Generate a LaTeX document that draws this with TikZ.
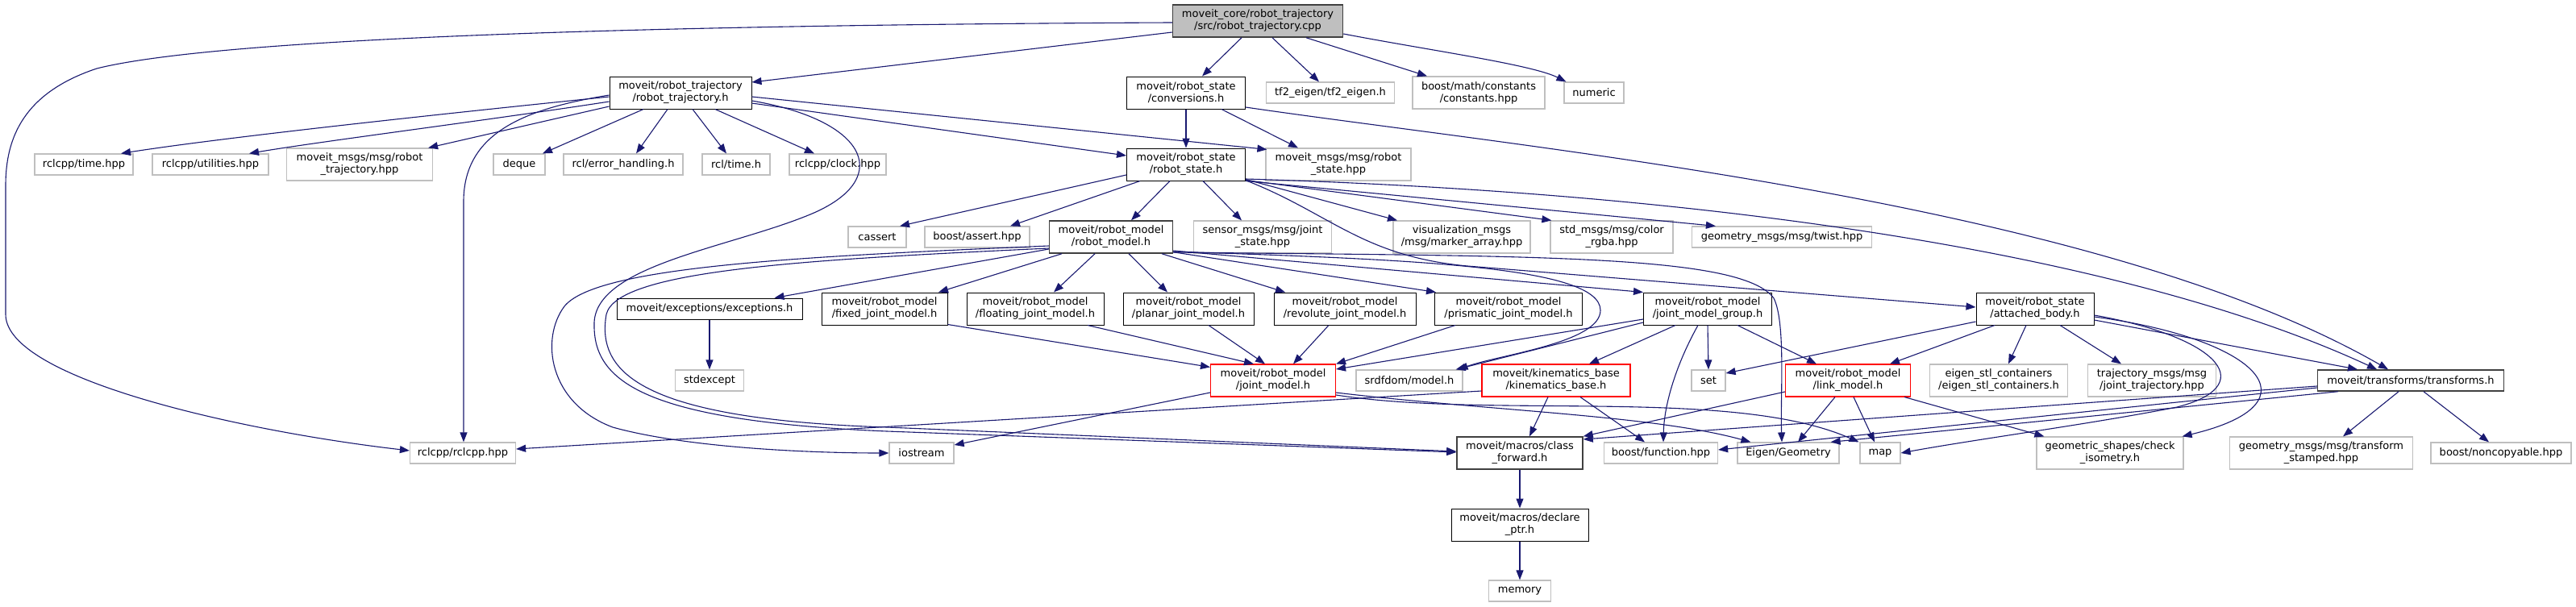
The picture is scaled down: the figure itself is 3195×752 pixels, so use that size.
\documentclass[tikz,border=0pt]{standalone}
\usepackage{fontspec}
\setmainfont{DejaVu Sans}
\usetikzlibrary{arrows.meta,calc}
\definecolor{edgec}{HTML}{191970}
\definecolor{gseventyfive}{HTML}{BFBFBF}
\definecolor{gtwentyfive}{HTML}{404040}
\tikzset{
 nbase/.style={rectangle, inner sep=0pt, align=center, font=\fontsize{13}{15}\selectfont, fill=white},
 nb/.style={nbase, draw=black, line width=1.0pt},
 ng/.style={nbase, draw=gseventyfive, line width=1.2pt},
 nr/.style={nbase, draw=red, line width=1.1pt},
 nd/.style={nbase, draw=gtwentyfive, line width=1.5pt},
 sz/.style 2 args={minimum width=#1pt, minimum height=#2pt},
 conn/.style={draw=edgec, line width=1.1pt, -{Triangle[length=12pt,width=9pt]}},
}
\begin{document}
\begin{tikzpicture}[x=1pt,y=-1pt]
\fill[white] (0,0) rectangle (3195,752);
\useasboundingbox (0,0) rectangle (3195,752);
% row 0
\node[nd, fill=gseventyfive, sz={211}{40}] (cpp) at (1560,26) {moveit\_core/robot\_trajectory\\/src/robot\_trajectory.cpp};
% row 1
\node[nb, sz={176}{40}] (rt) at (844,115) {moveit/robot\_trajectory\\/robot\_trajectory.h};
\node[nb, sz={147}{40}] (conv) at (1471,115) {moveit/robot\_state\\/conversions.h};
\node[ng, sz={159}{26}] (tf2) at (1650,115) {tf2\_eigen/tf2\_eigen.h};
\node[ng, sz={164}{40}] (bmath) at (1834,115) {boost/math/constants\\/constants.hpp};
\node[ng, sz={74}{26}] (numeric) at (1977,115) {numeric};
% row 2
\node[ng, sz={122}{26}] (rcltime) at (104,204) {rclcpp/time.hpp};
\node[ng, sz={144}{26}] (rclutil) at (261,204) {rclcpp/utilities.hpp};
\node[ng, sz={181}{40}] (mmrt) at (446,204) {moveit\_msgs/msg/robot\\\_trajectory.hpp};
\node[ng, sz={64}{26}] (deque) at (644,204) {deque};
\node[ng, sz={148}{26}] (rclerr) at (773,204) {rcl/error\_handling.h};
\node[ng, sz={84}{26}] (rcltimeh) at (913,204) {rcl/time.h};
\node[ng, sz={120}{26}] (rclclock) at (1039,204) {rclcpp/clock.hpp};
\node[nb, sz={147}{40}] (rs) at (1471,204) {moveit/robot\_state\\/robot\_state.h};
\node[ng, sz={180}{40}] (mmrs) at (1660,204) {moveit\_msgs/msg/robot\\\_state.hpp};
% row 3
\node[ng, sz={72}{26}] (cassert) at (1088,294) {cassert};
\node[ng, sz={130}{26}] (bassert) at (1212,294) {boost/assert.hpp};
\node[nd, sz={153}{40}] (rm) at (1378,294) {moveit/robot\_model\\/robot\_model.h};
\node[ng, sz={171}{40}] (sensor) at (1566,294) {sensor\_msgs/msg/joint\\\_state.hpp};
\node[ng, sz={170}{40}] (vis) at (1813,294) {visualization\_msgs\\/msg/marker\_array.hpp};
\node[ng, sz={152}{40}] (color) at (1999,294) {std\_msgs/msg/color\\\_rgba.hpp};
\node[ng, sz={223}{26}] (twist) at (2210,294) {geometry\_msgs/msg/twist.hpp};
% row 4
\node[nb, sz={230}{26}] (exc) at (880,383) {moveit/exceptions/exceptions.h};
\node[nb, sz={156}{40}] (fixed) at (1097,383) {moveit/robot\_model\\/fixed\_joint\_model.h};
\node[nb, sz={170}{40}] (floating) at (1284,383) {moveit/robot\_model\\/floating\_joint\_model.h};
\node[nb, sz={162}{40}] (planar) at (1474,383) {moveit/robot\_model\\/planar\_joint\_model.h};
\node[nb, sz={176}{40}] (revolute) at (1668,383) {moveit/robot\_model\\/revolute\_joint\_model.h};
\node[nb, sz={183}{40}] (prismatic) at (1871,383) {moveit/robot\_model\\/prismatic\_joint\_model.h};
\node[nb, sz={159}{40}] (jmg) at (2118,383) {moveit/robot\_model\\/joint\_model\_group.h};
\node[nb, sz={146}{40}] (attached) at (2524,383) {moveit/robot\_state\\/attached\_body.h};
% row 5
\node[ng, sz={85}{26}] (stdexcept) at (880,472) {stdexcept};
\node[nr, sz={155}{40}] (jm) at (1579,472) {moveit/robot\_model\\/joint\_model.h};
\node[ng, sz={132}{26}] (srdf) at (1748,472) {srdfdom/model.h};
\node[nr, sz={184}{40}] (kin) at (1930,472) {moveit/kinematics\_base\\/kinematics\_base.h};
\node[ng, sz={42}{26}] (set) at (2119,472) {set};
\node[nr, sz={155}{40}] (link) at (2292,472) {moveit/robot\_model\\/link\_model.h};
\node[ng, sz={171}{40}] (estl) at (2479,472) {eigen\_stl\_containers\\/eigen\_stl\_containers.h};
\node[ng, sz={159}{40}] (traj) at (2669,472) {trajectory\_msgs/msg\\/joint\_trajectory.hpp};
\node[nd, sz={231}{26}] (tf) at (2990,472) {moveit/transforms/transforms.h};
% row 6
\node[ng, sz={131}{26}] (rclcpp) at (574,562) {rclcpp/rclcpp.hpp};
\node[ng, sz={80}{26}] (iostream) at (1143,562) {iostream};
\node[nd, sz={156}{40}] (cf) at (1885,562) {moveit/macros/class\\\_forward.h};
\node[ng, sz={141}{26}] (bfunc) at (2060,562) {boost/function.hpp};
\node[ng, sz={126}{26}] (eigen) at (2218,562) {Eigen/Geometry};
\node[ng, sz={50}{26}] (map) at (2332,562) {map};
\node[ng, sz={182}{40}] (iso) at (2617,562) {geometric\_shapes/check\\\_isometry.h};
\node[ng, sz={227}{40}] (tstamp) at (2879,562) {geometry\_msgs/msg/transform\\\_stamped.hpp};
\node[ng, sz={174}{26}] (noncopy) at (3102,562) {boost/noncopyable.hpp};
% rows 7,8
\node[nb, sz={170}{40}] (declare) at (1885,651) {moveit/macros/declare\\\_ptr.h};
\node[ng, sz={77}{26}] (memory) at (1885,733) {memory};

% ---- edges from cpp
\draw[conn] ($(cpp.west)+(0,14)$) -- ($(rt.east)+(0,-13)$);
\draw[conn] ($(cpp.south)+(-20,0)$) -- ($(conv.north)+(20,0)$);
\draw[conn] ($(cpp.south)+(18,0)$) -- ($(tf2.north)+(-14,0)$);
\draw[conn] ($(cpp.south)+(60,0)$) -- ($(bmath.north)+(-64,0)$);
\draw[conn] ($(cpp.east)+(0,16)$) .. controls (1770,62) and (1900,80) .. ($(numeric.north west)+(3,0)$);
\draw[conn] ($(cpp.west)+(0,2)$) .. controls (1000,30) and (300,40) .. (120,85) .. controls (30,115) and (7,170) .. (7,230) -- (7,390) .. controls (7,470) and (300,535) .. ($(rclcpp.west)+(0,-3)$);
% ---- edges from rt
\draw[conn] ($(rt.west)+(0,5)$) .. controls (560,140) and (280,170) .. ($(rcltime.north)+(46,0)$);
\draw[conn] ($(rt.west)+(0,11)$) .. controls (600,150) and (400,175) .. ($(rclutil.north)+(48,0)$);
\draw[conn] ($(rt.west)+(0,17)$) -- ($(mmrt.north east)+(-6,0)$);
\draw[conn] ($(rt.south)+(-46,0)$) -- ($(deque.north)+(29,0)$);
\draw[conn] ($(rt.south)+(-16,0)$) -- ($(rclerr.north)+(16,0)$);
\draw[conn] ($(rt.south)+(15,0)$) -- ($(rcltimeh.north)+(-12,0)$);
\draw[conn] ($(rt.south)+(43,0)$) -- ($(rclclock.north)+(-29,0)$);
\draw[conn] ($(rt.east)+(0,13)$) -- ($(rs.west)+(0,-11)$);
\draw[conn] ($(rt.east)+(0,5)$) -- ($(mmrs.north west)+(2,2)$);
\draw[conn] ($(rt.west)+(0,3)$) .. controls (650,135) and (575,165) .. (575,250) -- ($(rclcpp.north)+(1,0)$);
\draw[conn] ($(rt.east)+(0,10)$) .. controls (1080,150) and (1110,225) .. (1000,268) .. controls (900,308) and (740,330) .. (737,400) .. controls (735,470) and (790,522) .. (1100,535) -- ($(cf.west)+(0,-1)$);
% ---- conv
\draw[conn] (conv.south) -- (rs.north);
\draw[conn] ($(conv.south)+(44,0)$) -- ($(mmrs.north)+(-50,0)$);
\draw[conn] ($(conv.east)+(0,18)$) .. controls (1900,185) and (2600,250) .. ($(tf.north)+(-28,0)$);
% ---- rs
\draw[conn] ($(rs.east)+(0,18)$) .. controls (2150,240) and (2650,320) .. ($(tf.north)+(-42,0)$);
\draw[conn] ($(rs.south east)+(2,0)$) .. controls (1650,265) and (1690,318) .. (1820,330) -- ($(attached.west)+(0,-2)$);
\draw[conn] ($(rs.west)+(0,13)$) -- ($(cassert.north)+(28,0)$);
\draw[conn] ($(rs.south)+(-57,0)$) -- ($(bassert.north)+(41,0)$);
\draw[conn] ($(rs.south)+(-20,0)$) -- ($(rm.north)+(25,0)$);
\draw[conn] ($(rs.south)+(21,0)$) -- ($(sensor.north)+(-26,0)$);
\draw[conn] ($(rs.south east)+(0,-2)$) -- ($(vis.north)+(-80,0)$);
\draw[conn] ($(rs.south east)+(0,-1)$) -- ($(color.north west)+(2,0)$);
\draw[conn] ($(rs.south east)+(0,0)$) -- ($(twist.north west)+(30,0)$);
% ---- rm
\draw[conn] ($(rm.west)+(0,15)$) -- ($(exc.north east)+(-35,0)$);
\draw[conn] ($(rm.south)+(-61,0)$) -- ($(fixed.north)+(67,0)$);
\draw[conn] ($(rm.south)+(-20,0)$) -- ($(floating.north)+(23,0)$);
\draw[conn] ($(rm.south)+(22,0)$) -- ($(planar.north)+(-26,0)$);
\draw[conn] ($(rm.south)+(63,0)$) -- ($(revolute.north)+(-74,0)$);
\draw[conn] ($(rm.south east)+(0,-2)$) -- ($(prismatic.north west)+(2,0)$);
\draw[conn] ($(rm.east)+(0,17)$) -- (jmg.north west);
\draw[conn] ($(rm.east)+(0,18)$) .. controls (1750,322) and (1985,330) .. (1985,385) .. controls (1985,425) and (1860,440) .. ($(srdf.north east)+(-6,0)$);
\draw[conn] ($(rm.east)+(0,19)$) .. controls (1900,318) and (2160,315) .. (2200,370) .. controls (2215,400) and (2208,490) .. ($(eigen.north)+(-8,0)$);
\draw[conn] ($(rm.west)+(0,11)$) .. controls (1000,318) and (740,330) .. (700,380) .. controls (670,420) and (680,500) .. (760,530) .. controls (850,555) and (1000,562) .. (iostream.west);
\draw[conn] ($(rm.west)+(0,14)$) .. controls (1000,322) and (765,335) .. (752,390) .. controls (740,460) and (790,520) .. (1100,530) -- ($(cf.west)+(0,-2)$);
% ---- exc
\draw[conn] (exc.south) -- (stdexcept.north);
% ---- joint models -> jm
\draw[conn] ($(fixed.south east)+(0,-1)$) -- ($(jm.north west)+(0,4)$);
\draw[conn] ($(floating.south)+(65,0)$) -- ($(jm.north)+(-24,0)$);
\draw[conn] ($(planar.south)+(25,0)$) -- ($(jm.north)+(-10,0)$);
\draw[conn] ($(revolute.south)+(-20,0)$) -- ($(jm.north)+(25,0)$);
\draw[conn] ($(prismatic.south)+(-66,0)$) -- (jm.north east);
% ---- jmg
\draw[conn] ($(jmg.west)+(0,13)$) -- ($(jm.east)+(0,-14)$);
\draw[conn] ($(jmg.west)+(0,17)$) -- ($(srdf.north east)+(-9,0)$);
\draw[conn] ($(jmg.south)+(-40,0)$) -- ($(kin.north)+(41,0)$);
\draw[conn] ($(jmg.south)+(-12,0)$) .. controls (2080,450) and (2064,500) .. ($(bfunc.north)+(3,0)$);
\draw[conn] (jmg.south) -- (set.north);
\draw[conn] ($(jmg.south)+(37,0)$) -- ($(link.north)+(-39,0)$);
% ---- attached
\draw[conn] ($(attached.west)+(0,16)$) -- ($(set.east)+(0,-9)$);
\draw[conn] ($(attached.south)+(-50,0)$) -- ($(link.north)+(52,0)$);
\draw[conn] ($(attached.south)+(-11,0)$) -- ($(estl.north)+(12,0)$);
\draw[conn] ($(attached.south)+(31,0)$) -- ($(traj.north)+(-38,0)$);
\draw[conn] ($(attached.east)+(0,14)$) -- ($(tf.north)+(-66,0)$);
\draw[conn] ($(attached.east)+(0,10)$) .. controls (2800,420) and (2880,500) .. ($(iso.north east)+(-2,0)$);
\draw[conn] ($(attached.east)+(0,8)$) .. controls (2760,420) and (2800,480) .. (2700,505) .. controls (2600,525) and (2450,545) .. (map.east);
% ---- jm
\draw[conn] ($(jm.west)+(0,15)$) -- ($(iostream.east)+(0,-10)$);
\draw[conn] ($(jm.east)+(0,15)$) .. controls (1850,510) and (2050,515) .. ($(eigen.north west)+(17,0)$);
\draw[conn] ($(jm.east)+(0,18)$) .. controls (1850,520) and (2150,480) .. ($(map.north west)+(-1,0)$);
% ---- kin
\draw[conn] ($(kin.west)+(0,13)$) -- ($(rclcpp.east)+(0,-5)$);
\draw[conn] ($(kin.south)+(-10,0)$) -- ($(cf.north)+(12,0)$);
\draw[conn] ($(kin.south)+(30,0)$) -- ($(bfunc.north)+(-20,0)$);
% ---- link
\draw[conn] ($(link.west)+(0,14)$) -- (cf.north east);
\draw[conn] ($(link.south)+(-16,0)$) -- ($(eigen.north)+(12,0)$);
\draw[conn] ($(link.south)+(7,0)$) -- ($(map.north)+(-7,0)$);
\draw[conn] ($(link.south east)+(-8,0)$) -- ($(iso.north west)+(10,0)$);
% ---- transforms
\draw[conn] ($(tf.south)+(-15,0)$) -- ($(tstamp.north)+(27,0)$);
\draw[conn] ($(tf.south)+(16,0)$) -- ($(noncopy.north)+(-15,0)$);
\draw[conn] ($(tf.west)+(0,7)$) -- ($(cf.east)+(0,-17)$);
\draw[conn] ($(tf.west)+(0,9)$) -- ($(bfunc.east)+(0,-4)$);
\draw[conn] ($(tf.south west)+(26,0)$) -- ($(eigen.north east)+(-11,0)$);
% ---- macros
\draw[conn] (cf.south) -- (declare.north);
\draw[conn] (declare.south) -- (memory.north);
\end{tikzpicture}
\end{document}
